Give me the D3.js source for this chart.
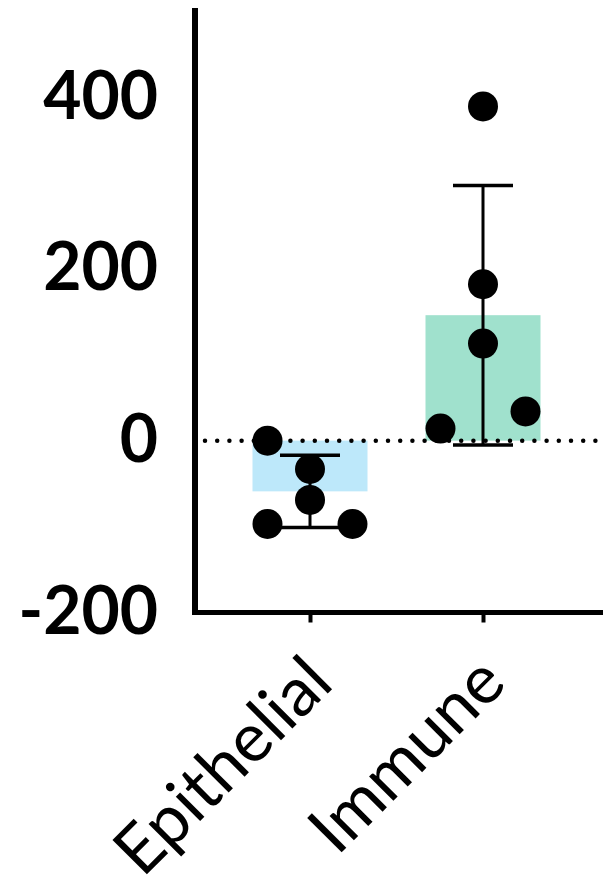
<!DOCTYPE html>
<html>
<head>
<meta charset="utf-8">
<script src="https://cdn.jsdelivr.net/npm/d3@7"></script>
<style>
  html, body { margin: 0; padding: 0; background: #fff; }
  svg { display: block; }
</style>
</head>
<body>
<div id="chart"></div>
<script>
// Categories and values
const categories = ['Epithelial', 'Immune'];
const barMeans = [-59, 146];
const barSD = [42, 151];
const barColors = ['#bde8fa', '#a0e1cd'];
const epithelialPoints = [0, -33, -69, -97, -97];
const immunePoints = [389, 182, 113, 14, 34];
const epithelialJitter = [-1, 0, 0, -1, 1];
const immuneJitter = [0, 0, 0, -1, 1];
const yTicks = [-200, 0, 200, 400];

const width = 603, height = 886;
const axisX = 195, axisY = 612.5;
const labelFont = 'Lato, "Open Sans", sans-serif';

const svg = d3.select('#chart').append('svg')
    .attr('width', width)
    .attr('height', height);

const y = d3.scaleLinear().domain([-200, 500]).range([axisY, 11]);
const x = d3.scalePoint().domain(categories).range([310, 483]);
const barWidth = 115;
const jitterStep = 42.5;

const groups = [
    { cat: categories[0], mean: barMeans[0], sd: barSD[0], color: barColors[0], pts: epithelialPoints, jit: epithelialJitter },
    { cat: categories[1], mean: barMeans[1], sd: barSD[1], color: barColors[1], pts: immunePoints, jit: immuneJitter }
];

// Bars
svg.selectAll('.bar')
    .data(groups)
    .enter()
    .append('rect')
    .attr('class', 'bar')
    .attr('x', d => x(d.cat) - barWidth / 2)
    .attr('width', barWidth)
    .attr('y', d => Math.min(y(d.mean), y(0)))
    .attr('height', d => Math.abs(y(d.mean) - y(0)))
    .attr('fill', d => d.color);

// Dotted zero line
svg.append('line')
    .attr('x1', 205).attr('x2', width)
    .attr('y1', y(0)).attr('y2', y(0))
    .attr('stroke', '#000')
    .attr('stroke-width', 4.5)
    .attr('stroke-linecap', 'round')
    .attr('stroke-dasharray', '0 12.2');

// Error bars (mean +/- SD)
const err = svg.selectAll('.err')
    .data(groups)
    .enter()
    .append('g')
    .attr('class', 'err');

err.append('line')
    .attr('x1', d => x(d.cat)).attr('x2', d => x(d.cat))
    .attr('y1', d => y(d.mean - d.sd)).attr('y2', d => y(d.mean + d.sd))
    .attr('stroke', '#000').attr('stroke-width', 3);

err.selectAll('.cap')
    .data(d => [d.mean - d.sd, d.mean + d.sd].map(v => ({ cat: d.cat, v })))
    .enter()
    .append('line')
    .attr('x1', d => x(d.cat) - 30).attr('x2', d => x(d.cat) + 30)
    .attr('y1', d => y(d.v)).attr('y2', d => y(d.v))
    .attr('stroke', '#000').attr('stroke-width', 3.5);

// Points
const points = [];
groups.forEach(g => g.pts.forEach((v, i) => points.push({ cat: g.cat, v, j: g.jit[i] })));

svg.selectAll('.pt')
    .data(points)
    .enter()
    .append('circle')
    .attr('class', 'pt')
    .attr('cx', d => x(d.cat) + d.j * jitterStep)
    .attr('cy', d => y(d.v))
    .attr('r', 15)
    .attr('fill', '#000');

// Y axis (plain hyphen for negatives, like the original)
const yAxis = svg.append('g')
    .attr('transform', `translate(${axisX},0)`)
    .call(d3.axisLeft(y).tickValues(yTicks).tickSize(0).tickPadding(37).tickFormat(d => String(d)));
yAxis.select('.domain').remove();
yAxis.selectAll('text')
    .style('font-family', labelFont)
    .style('font-size', '66px')
    .style('font-weight', 700)
    .attr('fill', '#000');

// X axis
const xAxis = svg.append('g')
    .attr('transform', `translate(0,${axisY})`)
    .call(d3.axisBottom(x).tickSize(10).tickPadding(0));
xAxis.select('.domain').remove();
xAxis.selectAll('.tick line')
    .attr('stroke', '#000')
    .attr('stroke-width', 4);
xAxis.selectAll('text')
    .style('font-family', labelFont)
    .style('font-size', '68px')
    .attr('fill', '#000')
    .attr('text-anchor', 'end')
    .attr('dy', 0)
    .attr('transform', 'translate(18,66) rotate(-45)');

// Axis lines
svg.append('line')
    .attr('x1', axisX).attr('x2', axisX)
    .attr('y1', y(500) - 3).attr('y2', axisY + 2.5)
    .attr('stroke', '#000').attr('stroke-width', 6);
svg.append('line')
    .attr('x1', axisX - 3).attr('x2', width)
    .attr('y1', axisY).attr('y2', axisY)
    .attr('stroke', '#000').attr('stroke-width', 5);
</script>
</body>
</html>
